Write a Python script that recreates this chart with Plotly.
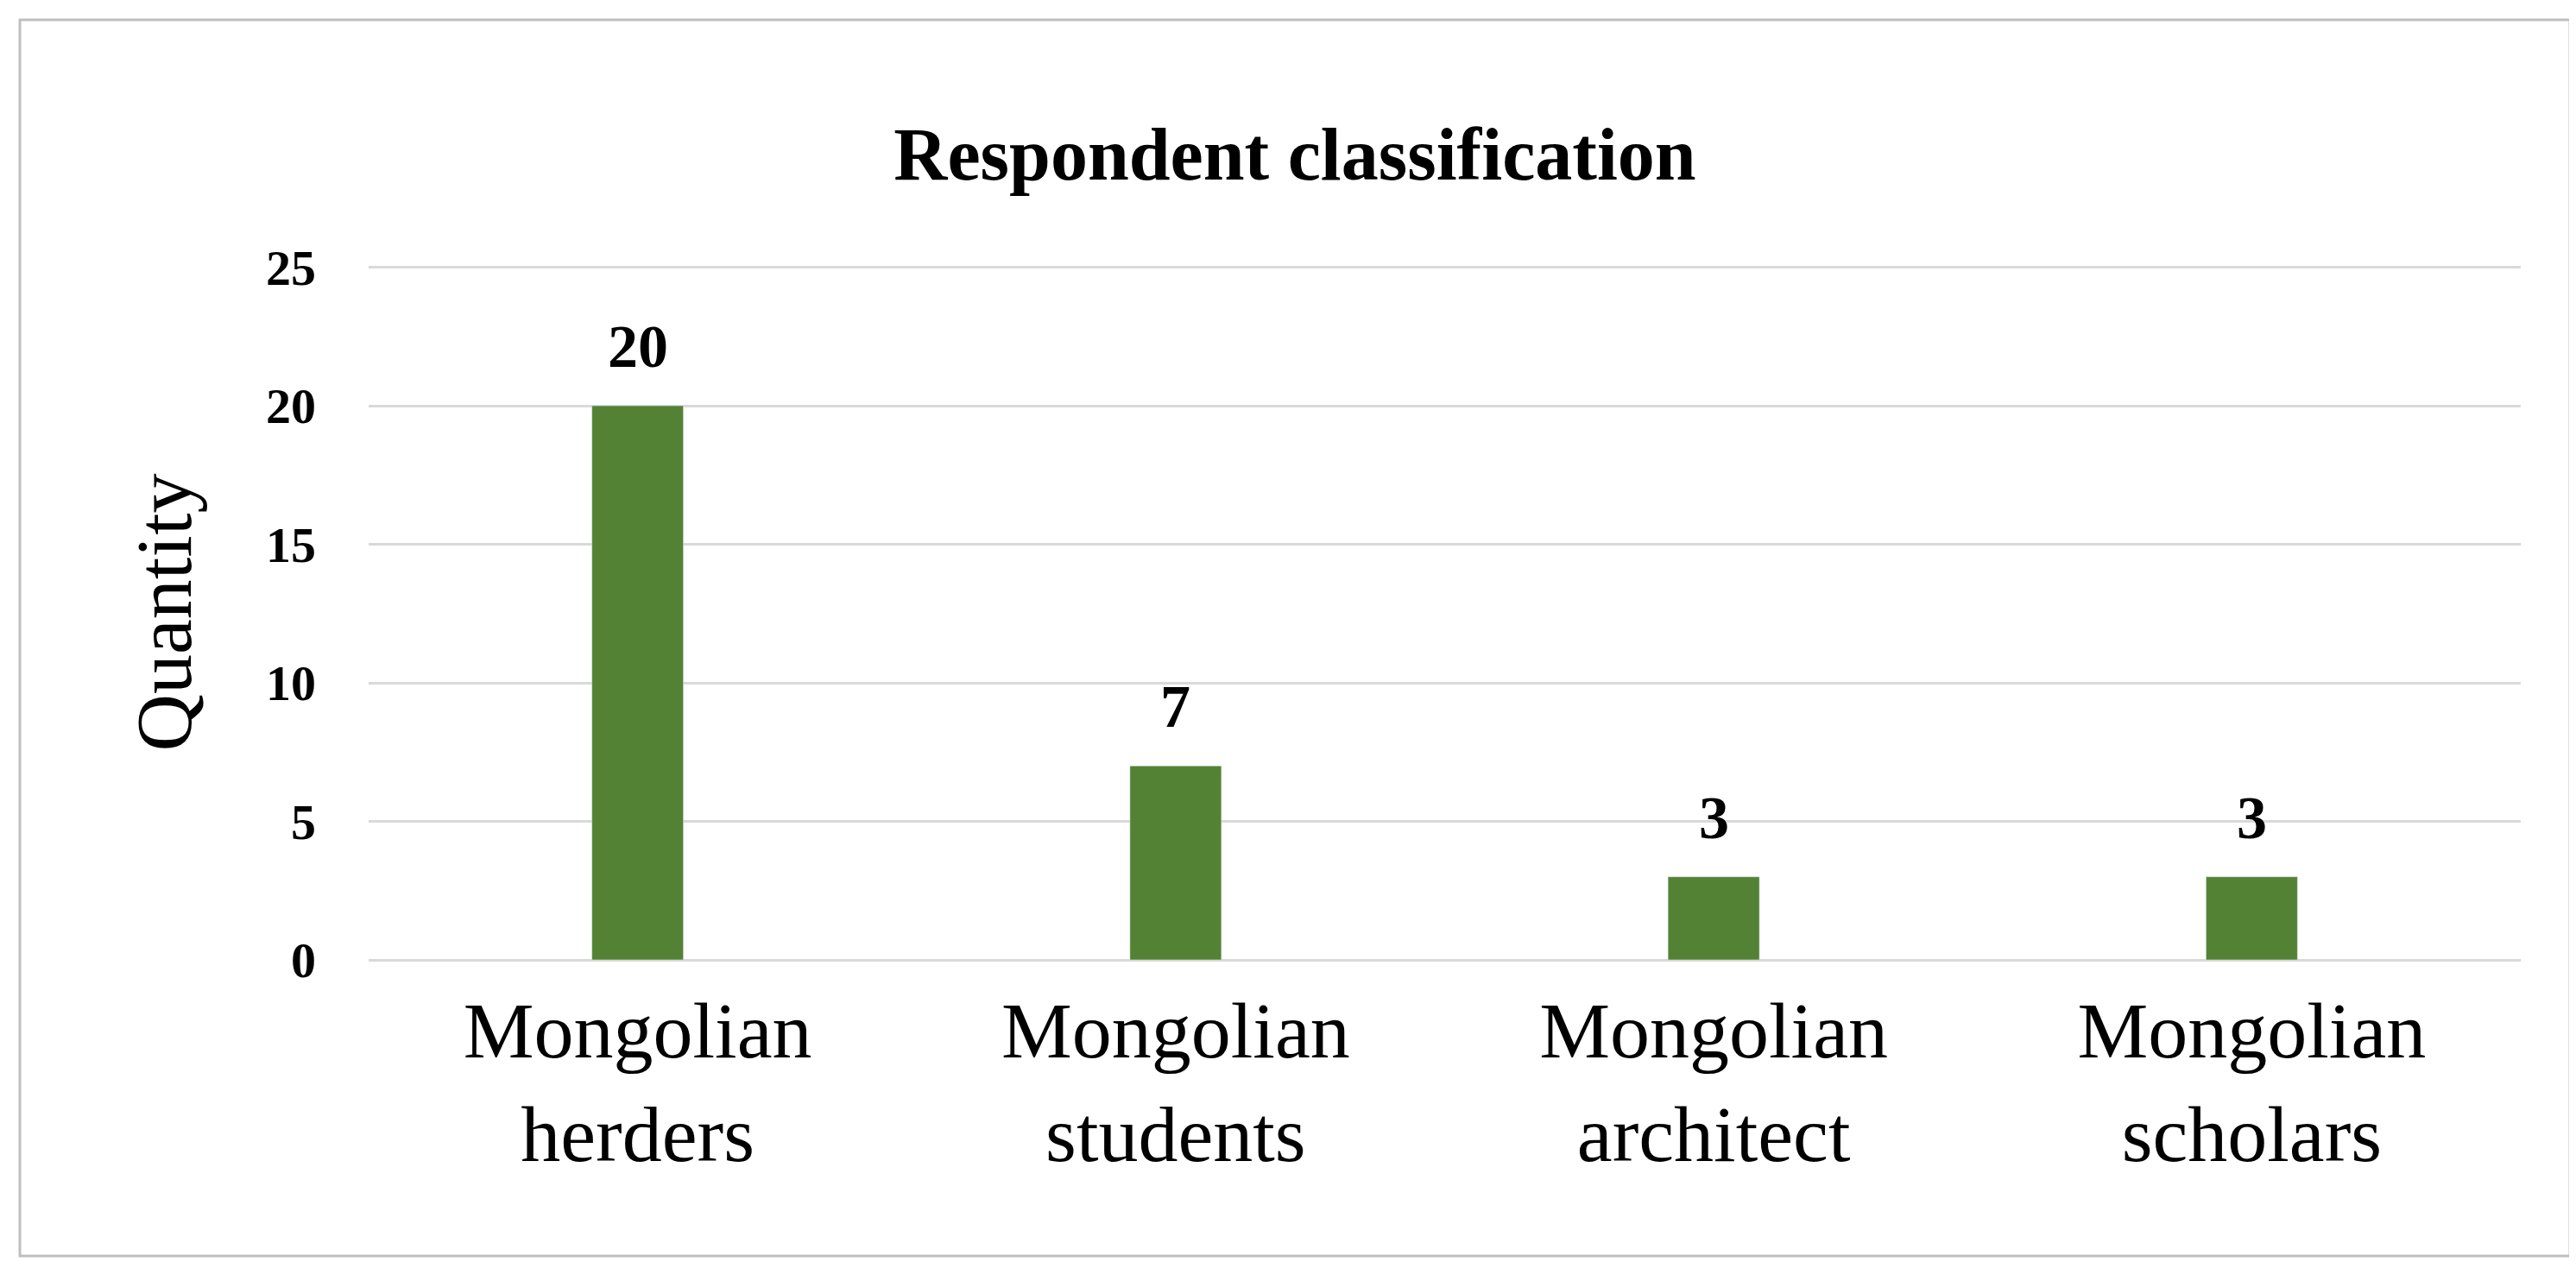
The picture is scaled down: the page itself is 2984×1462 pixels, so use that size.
import plotly.graph_objects as go

categories = ["Mongolian<br>herders", "Mongolian<br>students", "Mongolian<br>architect", "Mongolian<br>scholars"]
values = [20, 7, 3, 3]
yticks = [0, 5, 10, 15, 20, 25]

fig = go.Figure(go.Bar(
    x=categories, y=values, marker_color="#548235",
))
for c, v in zip(categories, values):
    fig.add_annotation(x=c, y=v, text=f"<b>{v}</b>", showarrow=False,
                       yanchor="bottom", yshift=28,
                       font=dict(family="Liberation Serif", size=70, color="black"))
fig.update_layout(
    width=2984, height=1462,
    paper_bgcolor="white", plot_bgcolor="white",
    margin=dict(l=419, r=72, t=299, b=358),
    bargap=0.83, showlegend=False,
    font=dict(family="Liberation Serif", color="black"),
    title=dict(text="<b>Respondent classification</b>", x=0.5, xanchor="center",
               y=1 - 170/1462, yanchor="middle", font=dict(size=86, family="Liberation Serif")),
    shapes=[dict(type="rect", xref="paper", yref="paper",
                 x0=-404/2493, x1=1+57/2493, y0=-343/805, y1=1+284/805,
                 line=dict(color="#bfbfbf", width=3))],
)
fig.update_yaxes(range=[0, 25.08], tickvals=yticks, ticktext=[f"<b>{v}</b>" for v in yticks],
                 tickfont=dict(size=58), gridcolor="#d9d9d9", gridwidth=3,
                 showline=False, zeroline=True, zerolinecolor="#d9d9d9", zerolinewidth=3,
                 ticks="", ticklabelstandoff=60,
                 title=dict(text="Quantity", font=dict(size=92), standoff=55))
fig.update_xaxes(tickfont=dict(size=92), showline=False, ticks="", ticklabelstandoff=20)
fig.write_html("out.html")
